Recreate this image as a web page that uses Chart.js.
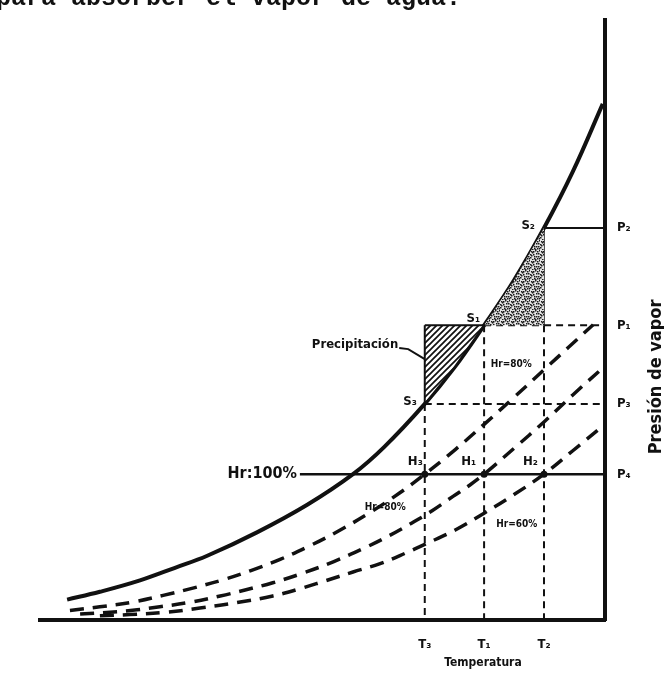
<!DOCTYPE html>
<html lang="es">
<head>
<meta charset="utf-8">
<title>Presión de vapor - Temperatura</title>
<script src="https://cdn.jsdelivr.net/npm/chart.js@4"></script>
<style>
  html, body { margin: 0; padding: 0; background: #fff; }
  canvas { display: block; }
</style>
</head>
<body>
<canvas id="grafico" width="664" height="676"></canvas>
<script>
// ===== DATOS =====
const tempTicks  = ["T₃", "T₁", "T₂"];
const tempValues = [68.1, 78.6, 89.2];
const presTicks  = ["P₂", "P₁", "P₃", "P₄"];
const presValues = [65.3, 49.1, 36.0, 24.3];

// curva de saturación (Hr = 100%)
const satT = [4.8, 10.6, 17.7, 23.9, 29.6, 38.4, 47.3, 55.4, 60.9, 68.1, 73.3, 78.6, 83.9, 89.2, 94.3, 99.6];
const satP = [3.4, 4.7, 6.6, 8.7, 10.7, 14.6, 19.2, 24.3, 28.8, 36.0, 42.0, 49.1, 56.6, 65.3, 74.7, 86.0];

// curvas de humedad relativa (trazos)
const hrAT = [5.3, 10.6, 16.5, 21.8, 27.4, 32.4, 37.2, 42.5, 47.4, 52.2, 58.4, 63.7, 68.1, 73.5, 78.6, 83.9, 89.2, 93.5, 97.9];
const hrAP = [1.6, 2.2, 3.0, 4.1, 5.4, 6.7, 8.2, 10.1, 12.2, 14.5, 17.9, 21.2, 24.3, 28.4, 32.6, 37.1, 41.7, 45.4, 49.2];
const hrBT = [7.1, 12.4, 17.2, 21.2, 26.2, 31.9, 36.3, 41.2, 46.5, 51.9, 57.2, 61.9, 65.5, 69.4, 73.1, 76.1, 78.6, 83.9, 89.2, 94.3, 99.6];
const hrBP = [1.0, 1.3, 1.7, 2.2, 2.9, 4.0, 5.0, 6.2, 7.8, 9.7, 11.9, 14.1, 16.0, 18.2, 20.6, 22.5, 24.3, 28.6, 33.0, 37.5, 42.0];
const hrCT = [10.6, 15.9, 22.5, 28.3, 34.9, 41.2, 46.0, 50.4, 55.4, 60.2, 64.6, 68.1, 73.5, 78.6, 83.9, 89.2, 94.3, 99.6];
const hrCP = [0.7, 0.9, 1.3, 2.0, 2.9, 4.0, 5.2, 6.5, 8.0, 9.4, 11.1, 12.6, 15.0, 17.8, 20.9, 24.3, 28.2, 32.3];
const hrLabels = ["Hr=80%", "Hr=80%", "Hr=60%"];

const p4From = 46.0;   // inicio de la línea Hr=100% (tras el rótulo)

// ===== ESTILO =====
const INK  = "#111";
const FONT = '"DejaVu Sans Condensed", "DejaVu Sans", sans-serif';

const [T3, T1, T2] = tempValues;
const [P2, P1, P3, P4] = presValues;

const xy = (xs, ys) => xs.map((v, i) => ({ x: v, y: ys[i] }));

const sat = xy(satT, satP);
const i3 = satT.indexOf(T3);
const i1 = satT.indexOf(T1);
const i2 = satT.indexOf(T2);

// zona de precipitación (rayada) y zona punteada
const hatchPts   = [{ x: T3, y: P1 }, ...sat.slice(i3, i1 + 1).reverse(), { x: T3, y: P1 }];
const stipplePts = [...sat.slice(i1, i2 + 1), { x: T2, y: P1 }];

function pattern(size, bg, draw) {
  const c = document.createElement("canvas");
  c.width = c.height = size;
  const g = c.getContext("2d");
  g.fillStyle = bg;
  g.fillRect(0, 0, size, size);
  draw(g, size);
  return g.createPattern(c, "repeat");
}

const hatch = pattern(6, "#fff", (g, s) => {
  g.strokeStyle = INK;
  g.lineWidth = 1.7;
  g.beginPath();
  g.moveTo(0, s); g.lineTo(s, 0);
  g.moveTo(-1, 1); g.lineTo(1, -1);
  g.moveTo(s - 1, s + 1); g.lineTo(s + 1, s - 1);
  g.stroke();
});

const stipple = pattern(10, "#e2e2e2", g => {
  g.fillStyle = "#1a1a1a";
  [[1,1],[5,0],[8,3],[3,4],[6,6],[0,7],[9,8],[4,8],[7,1],[2,9],[6,3],[0,4],
   [3,1],[8,6],[5,9],[1,5],[4,6],[9,0],[7,8],[2,2]]
    .forEach(([a, b]) => g.fillRect(a, b, 1.5, 1.5));
});

function line(data, opts) {
  return Object.assign({
    data, showLine: true, pointRadius: 0, borderColor: INK,
    borderWidth: 2, tension: 0, fill: false
  }, opts);
}

const guide = { borderWidth: 2, borderDash: [7, 5] };
const rh    = { borderWidth: 3.5, borderDash: [14, 9], tension: 0.4 };

const datasets = [
  line(hatchPts,   { fill: "shape", backgroundColor: hatch, borderWidth: 2 }),
  line(stipplePts, { fill: "shape", backgroundColor: stipple, borderWidth: 0 }),

  // guías punteadas
  line([{ x: T3, y: P3 }, { x: T3, y: 0 }], guide),
  line([{ x: T1, y: P1 }, { x: T1, y: 0 }], guide),
  line([{ x: T2, y: P1 }, { x: T2, y: 0 }], guide),
  line([{ x: T1, y: P1 }, { x: 100, y: P1 }], guide),
  line([{ x: T3, y: P3 }, { x: 100, y: P3 }], guide),

  // líneas llenas
  line([{ x: T2, y: P2 }, { x: T2, y: P1 }], { borderWidth: 1.5 }),
  line([{ x: T2, y: P2 }, { x: 100, y: P2 }], { borderWidth: 2 }),
  line([{ x: p4From, y: P4 }, { x: 100, y: P4 }], { borderWidth: 2.5 }),

  // humedad relativa
  line(xy(hrAT, hrAP), rh),
  line(xy(hrBT, hrBP), rh),
  line(xy(hrCT, hrCP), rh),

  // saturación
  line(sat, { borderWidth: 4, tension: 0.4 }),

  // puntos H
  {
    data: [{ x: T3, y: P4 }, { x: T1, y: P4 }, { x: T2, y: P4 }],
    showLine: false, pointRadius: 3.5, pointBorderWidth: 0,
    pointBackgroundColor: INK
  }
];

// ===== RÓTULOS =====
const rotulos = {
  id: "rotulos",
  beforeDraw(chart) {
    const { ctx } = chart;
    ctx.save();
    ctx.fillStyle = "#fff";
    ctx.fillRect(0, 0, chart.width, chart.height);
    ctx.restore();
  },
  afterDraw(chart) {
    const { ctx } = chart;
    const px = v => chart.scales.x.getPixelForValue(v);
    const py = v => chart.scales.y.getPixelForValue(v);

    ctx.save();
    ctx.fillStyle = INK;
    ctx.strokeStyle = INK;

    // texto de la página anterior
    ctx.font = 'bold 25px "Liberation Mono", "DejaVu Sans Mono", monospace';
    ctx.textAlign = "left";
    ctx.textBaseline = "alphabetic";
    ctx.fillText("para absorber el vapor de agua.", -4, 5);

    ctx.textBaseline = "middle";

    // puntos S y H
    ctx.font = "bold 13px " + FONT;
    ctx.textAlign = "right";
    [["S₂", T2, P2, -9, -2], ["S₁", T1, P1, -4, -7], ["S₃", T3, P3, -8, -2],
     ["H₃", T3, P4, -2, -13], ["H₁", T1, P4, -8, -13], ["H₂", T2, P4, -6, -13]]
      .forEach(([t, a, b, dx, dy]) => ctx.fillText(t, px(a) + dx, py(b) + dy));

    // precipitación
    ctx.font = "bold 13px " + FONT;
    const ex = px(63.4), ey = py(45.8);
    ctx.fillText("Precipitación", ex, ey);
    ctx.lineWidth = 2;
    ctx.beginPath();
    ctx.moveTo(ex + 1, ey + 3);
    ctx.lineTo(ex + 10, ey + 4);
    ctx.lineTo(px(T3), ey + 14);
    ctx.stroke();

    // Hr = 100 %
    ctx.font = "bold 16px " + FONT;
    ctx.fillText("Hr:100%", px(p4From) - 3, py(P4));

    // humedades relativas
    ctx.font = "bold 10px " + FONT;
    ctx.textAlign = "center";
    [[83.4, 42.6], [61.1, 18.7], [84.4, 16.0]]
      .forEach(([a, b], i) => ctx.fillText(hrLabels[i], px(a), py(b)));

    // títulos de los ejes
    ctx.font = "bold 12px " + FONT;
    ctx.fillText("Temperatura", px(78.4), chart.height - 13);

    ctx.save();
    ctx.translate(656, py(40.5));
    ctx.rotate(-Math.PI / 2);
    ctx.font = "bold 18px " + FONT;
    ctx.fillText("Presión de vapor", 0, 0);
    ctx.restore();

    ctx.restore();
  }
};

// ===== GRÁFICO =====
const tickFont = { family: FONT, weight: "bold", size: 13 };

new Chart(document.getElementById("grafico"), {
  type: "scatter",
  data: { datasets },
  plugins: [rotulos],
  options: {
    responsive: false,
    animation: false,
    devicePixelRatio: 1,
    layout: { padding: { top: 15, left: 40, right: 0, bottom: 0 } },
    plugins: { legend: { display: false }, tooltip: { enabled: false } },
    scales: {
      x: {
        type: "linear", min: 0, max: 100,
        grid: { display: false, drawTicks: false },
        border: { display: true, color: INK, width: 4 },
        afterBuildTicks: s => { s.ticks = tempValues.map(v => ({ value: v })); },
        afterFit: s => { s.height = 56; },
        ticks: {
          autoSkip: false, maxRotation: 0, padding: 17, color: INK, font: tickFont,
          callback: v => tempTicks[tempValues.indexOf(v)]
        }
      },
      y: {
        type: "linear", position: "right", min: 0, max: 100,
        grid: { display: false, drawTicks: false },
        border: { display: true, color: INK, width: 4 },
        afterBuildTicks: s => { s.ticks = presValues.map(v => ({ value: v })); },
        afterFit: s => { s.width = 59; },
        ticks: {
          autoSkip: false, padding: 12, color: INK, font: tickFont,
          callback: v => presTicks[presValues.indexOf(v)]
        }
      }
    }
  }
});
</script>
</body>
</html>
